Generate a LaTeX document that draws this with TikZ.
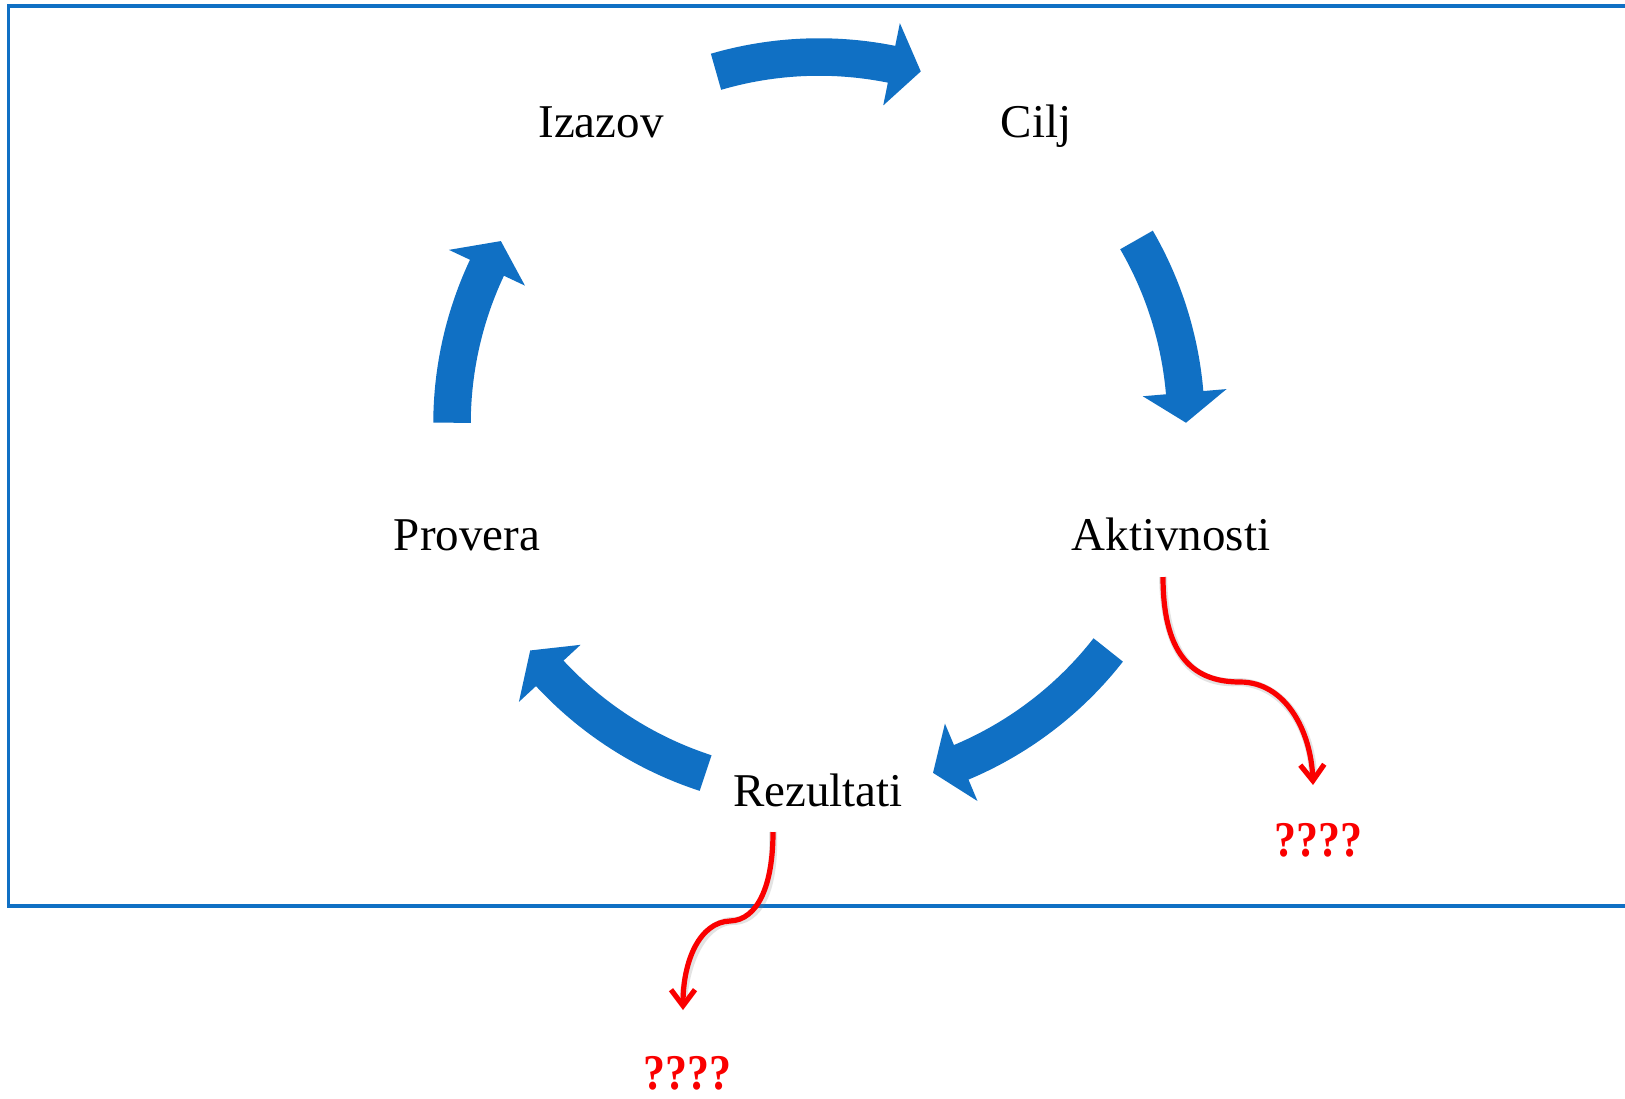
\documentclass[tikz,border=0pt]{standalone}
\usepackage{fontspec}
\setmainfont{Liberation Serif}
\usetikzlibrary{arrows.meta,calc}
\definecolor{cycblue}{RGB}{16,112,196}
\definecolor{qred}{RGB}{250,0,0}
\tikzset{
  band/.style={draw=cycblue,line width=18.75pt,line cap=butt},
  headfill/.style={fill=cycblue},
  lbl/.style={anchor=base,inner sep=0pt,font=\fontsize{23.5pt}{28pt}\selectfont},
  qlbl/.style={anchor=base,inner sep=0pt,text=qred,font=\fontsize{25pt}{28pt}\selectfont\bfseries},
  redarrow/.style={draw=qred,line width=2.6pt,-{Straight Barb[length=8pt,width=12pt]}},
  redshadow/.style={draw=gray,opacity=0.22,line width=4pt},
  frame/.style={draw=cycblue,line width=1.6pt}
}
\newcommand\cyarr[3]{%
  \draw[band] ($(c)+(#1:367)$) arc[start angle=#1,end angle=#2-0.4,radius=367];
  \fill[headfill] ($(c)+(#2:409)$) -- ($(c)+(#3:367)$) -- ($(c)+(#2:325)$) -- cycle;}
\begin{document}
\begin{tikzpicture}[x=0.5pt,y=0.5pt]
\useasboundingbox (0,0) rectangle (1625,-1098);
\clip (0,0) rectangle (1625,-1098);
\fill[white] (0,0) rectangle (1625,-1098);
% frame
\draw[frame] (8.5,-6) rectangle (1660,-906);
% circle centre
\coordinate (c) at (819,-424);
% labels
\node[lbl] (izazov) at (601,-137) {Izazov};
\node[lbl] (cilj) at (1036,-137) {Cilj};
\node[lbl] (aktiv) at (1171,-550) {Aktivnosti};
\node[lbl] (provera) at (467,-550) {Provera};
\node[lbl] (rez) at (818,-806) {Rezultati};
\node[qlbl] (q1) at (1318,-856) {\scalebox{0.88}[1]{????}};
\node[qlbl] (q2) at (687,-1089) {\scalebox{0.88}[1]{????}};
% cycle arrows
\cyarr{106.3}{78.6}{73.9}
\cyarr{30.1}{4.9}{0.2}
\cyarr{-38.0}{-67.2}{-71.9}
\cyarr{-108.0}{-137.2}{-141.9}
\cyarr{179.8}{154.8}{150.1}
% red arrows
\coordinate (r1s) at (1163,-577);
\coordinate (r1m) at (1240,-682);
\coordinate (r1e) at (1313,-785);
\coordinate (r2s) at (773,-832);
\coordinate (r2m) at (730,-921);
\coordinate (r2e) at (683,-1010);
\begin{scope}[shift={(2,-3)}]
\draw[redshadow] (r1s) .. controls (1163,-660) and (1197,-682) .. (r1m)
  .. controls (1285,-682) and (1311,-730) .. ($(r1e)+(0,6)$);
\draw[redshadow] (r2s) .. controls (773,-885) and (758,-920) .. (r2m)
  .. controls (700,-922) and (683,-960) .. ($(r2e)+(0,6)$);
\end{scope}
\draw[redarrow] (r1s) .. controls (1163,-660) and (1197,-682) .. (r1m)
  .. controls (1285,-682) and (1311,-730) .. (r1e);
\draw[redarrow] (r2s) .. controls (773,-885) and (758,-920) .. (r2m)
  .. controls (700,-922) and (683,-960) .. (r2e);
\end{tikzpicture}
\end{document}
